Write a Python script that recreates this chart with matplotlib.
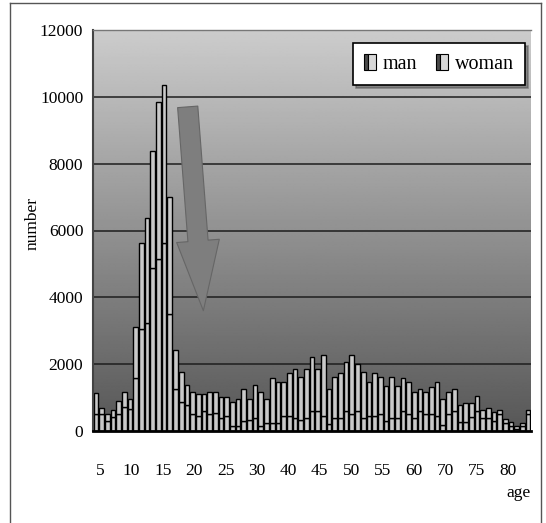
import numpy as np
import matplotlib
matplotlib.use("Agg")
import matplotlib.pyplot as plt
from matplotlib.patches import Rectangle
from matplotlib.legend_handler import HandlerBase
from matplotlib.lines import Line2D

# Counts per single year of age (ages 4 .. 80)
ages = list(range(4, 81))
total = [1150, 680, 500, 630, 900, 1160, 950, 3100, 5640, 6380,
         8380, 9850, 10340, 7000, 2420, 1780, 1380, 1180, 1110, 1110,
         1180, 1160, 1030, 1030, 880, 950, 1260, 950, 1380, 1160,
         950, 1580, 1460, 1460, 1730, 1850, 1630, 1850, 2200, 1850,
         2270, 1250, 1630, 1730, 2050, 2270, 2000, 1780, 1460, 1730,
         1630, 1360, 1630, 1360, 1580, 1460, 1160, 1250, 1160, 1310,
         1460, 950, 1160, 1250, 780, 830, 830, 1050, 630, 680,
         580, 630, 360, 260, 160, 230, 630]
man = [500, 500, 290, 410, 500, 710, 650, 1600, 3040, 3230,
       4870, 5160, 5640, 3490, 1250, 860, 780, 510, 450, 610,
       510, 530, 380, 450, 150, 150, 300, 330, 380, 160,
       230, 230, 230, 450, 450, 380, 330, 380, 600, 600,
       450, 210, 380, 380, 600, 510, 600, 380, 450, 450,
       510, 300, 380, 380, 600, 510, 380, 600, 510, 510,
       450, 180, 510, 600, 280, 280, 430, 600, 380, 380,
       300, 510, 230, 150, 70, 160, 510]
woman = [t - m for t, m in zip(total, man)]

x_tick_labels = ["5", "10", "15", "20", "25", "30", "40", "45",
                 "50", "55", "60", "70", "75", "80"]
y_ticks = [0, 2000, 4000, 6000, 8000, 10000, 12000]

SERIF = ["Liberation Serif", "DejaVu Serif"]
plt.rcParams["font.family"] = SERIF

fig = plt.figure(figsize=(5.46, 5.23), dpi=100)
ax = fig.add_axes([93 / 546, 1 - 431 / 523, 438 / 546, 401 / 523])

# vertical grey gradient behind the plot
grad = np.linspace(0.80, 0.34, 256).reshape(-1, 1)
ax.imshow(grad, cmap="gray", vmin=0, vmax=1, aspect="auto",
          extent=[0, 1, 0, 1], transform=ax.transAxes, zorder=0,
          interpolation="bilinear")

idx = np.arange(len(ages))
bar_kw = dict(width=0.82, color="#c9c9c9", edgecolor="black",
              linewidth=1.0, zorder=2)
ax.bar(idx, man, **bar_kw)
ax.bar(idx, woman, bottom=man, **bar_kw)

ax.set_xlim(-0.5, len(ages) - 0.5)
ax.set_ylim(0, 12000)

# horizontal grid lines
for yv in y_ticks[1:-1]:
    ax.axhline(yv, color="#1e1e1e", linewidth=1.1, zorder=1)

ax.set_yticks(y_ticks)
ax.set_yticklabels([str(v) for v in y_ticks], fontsize=12.5)
ax.tick_params(axis="y", length=0, pad=7)

xpos = np.linspace(0.73, 72.46, len(x_tick_labels))
ax.set_xticks(xpos)
ax.set_xticklabels(x_tick_labels, fontsize=12.5)
ax.tick_params(axis="x", length=0, pad=23)

for s in ("right",):
    ax.spines[s].set_visible(False)
ax.spines["top"].set_color("#777777")
ax.spines["top"].set_linewidth(1.0)
ax.spines["left"].set_color("#444444")
ax.spines["left"].set_linewidth(1.5)
ax.spines["bottom"].set_color("black")
ax.spines["bottom"].set_linewidth(2.0)

# big arrow pointing from the peak down towards the flat part
ax.annotate("", xy=(18.9, 3600), xytext=(16.15, 9700),
            arrowprops=dict(arrowstyle="simple,head_length=1.8,head_width=1.1,tail_width=0.52",
                            mutation_scale=28, facecolor="#7e7e7e",
                            edgecolor="#666666", linewidth=0.8,
                            shrinkA=0, shrinkB=0),
            zorder=3)

ax.text(1.0, -0.155, "age", transform=ax.transAxes, ha="right",
        va="center", fontsize=12.5)
fig.text(33 / 546, 1 - 224 / 523, "number", rotation=90, ha="center",
         va="center", fontsize=12.5)


class BarIconHandler(HandlerBase):
    def create_artists(self, legend, orig_handle, xdescent, ydescent,
                       width, height, fontsize, trans):
        w1 = width * 0.38
        dark = Rectangle((-xdescent, -ydescent), w1, height,
                         facecolor="#4a4a4a", edgecolor="black",
                         linewidth=0.8, transform=trans)
        light = Rectangle((-xdescent + w1, -ydescent), width - w1, height,
                          facecolor="#d8d8d8", edgecolor="black",
                          linewidth=0.8, transform=trans)
        return [dark, light]


h_man = Line2D([], [])
h_woman = Line2D([], [])
leg = ax.legend([h_man, h_woman], ["man", "woman"],
                handler_map={Line2D: BarIconHandler()},
                loc="upper right", bbox_to_anchor=(0.986, 0.968),
                ncol=2, fontsize=14.5, frameon=True, fancybox=False,
                shadow=True, handlelength=0.6, handleheight=0.85,
                handletextpad=0.35, columnspacing=0.9,
                borderpad=0.55, borderaxespad=0)
leg.get_frame().set_edgecolor("black")
leg.get_frame().set_linewidth(1.2)
leg.get_frame().set_facecolor("white")
leg.set_zorder(5)

# outer frame lines
fig.add_artist(Line2D([10 / 546, 10 / 546], [0, 1 - 3 / 523],
                      transform=fig.transFigure, color="#555555", lw=1))
fig.add_artist(Line2D([10 / 546, 541 / 546], [1 - 3 / 523, 1 - 3 / 523],
                      transform=fig.transFigure, color="#555555", lw=1))
fig.add_artist(Line2D([541 / 546, 541 / 546], [0, 1 - 3 / 523],
                      transform=fig.transFigure, color="#555555", lw=1))

fig.savefig("out.png", dpi=100, facecolor="white")
